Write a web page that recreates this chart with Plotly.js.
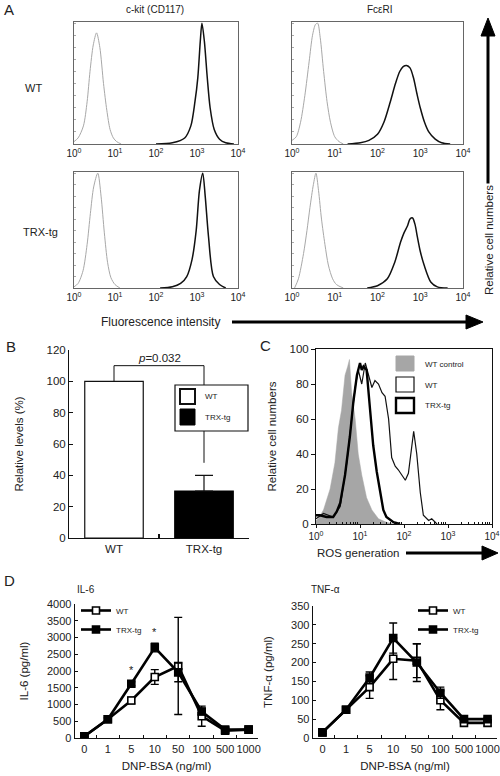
<!DOCTYPE html>
<html><head><meta charset="utf-8">
<script src="https://cdn.plot.ly/plotly-3.0.1.min.js"></script>
<style>html,body{margin:0;padding:0;background:#fff}#chart{width:500px;height:776px}</style>
</head><body><div id="chart"></div>
<script>
// ---------- DATA ----------
// Panel A: flow-cytometry histograms (x = log10 fluorescence, y = relative count)
const ckitWT_isoLog = [0, 0.1, 0.23, 0.32, 0.39, 0.47, 0.55, 0.63, 0.72, 0.8, 0.88, 0.96, 1.04, 1.15];
const ckitWT_isoY   = [2, 5, 15, 35, 60, 82, 92, 80, 50, 28, 12, 5, 2, 0];
const ckitWT_Log    = [2.0, 2.4, 2.7, 2.85, 2.95, 3.02, 3.08, 3.12, 3.18, 3.25, 3.32, 3.42, 3.55, 3.7, 3.9];
const ckitWT_Y      = [0, 1, 5, 15, 35, 55, 85, 100, 85, 55, 30, 12, 4, 1, 0];
const fceWT_isoLog  = [0, 0.1, 0.2, 0.3, 0.4, 0.48, 0.55, 0.6, 0.66, 0.74, 0.82, 0.9, 1.0, 1.1, 1.2];
const fceWT_isoY    = [3, 6, 18, 40, 68, 90, 99, 100, 88, 60, 35, 18, 6, 2, 0];
const fceWT_Log     = [1.3, 1.6, 1.8, 2.0, 2.15, 2.3, 2.42, 2.52, 2.6, 2.68, 2.76, 2.84, 2.92, 3.0, 3.1, 3.2, 3.35, 3.5, 3.7];
const fceWT_Y       = [0, 1, 3, 8, 18, 35, 50, 60, 64, 65, 63, 55, 42, 30, 18, 10, 4, 1, 0];
const ckitTG_isoLog = [0, 0.1, 0.22, 0.32, 0.4, 0.48, 0.58, 0.66, 0.74, 0.82, 0.9, 1.0, 1.12];
const ckitTG_isoY   = [1, 4, 15, 38, 65, 88, 100, 80, 48, 22, 9, 3, 0];
const ckitTG_Log    = [2.1, 2.4, 2.6, 2.75, 2.88, 2.98, 3.06, 3.14, 3.2, 3.28, 3.4, 3.55, 3.7];
const ckitTG_Y      = [0, 1, 4, 10, 25, 50, 85, 100, 80, 45, 10, 3, 0];
const fceTG_isoLog  = [0.06, 0.15, 0.27, 0.35, 0.42, 0.5, 0.56, 0.62, 0.69, 0.77, 0.85, 0.95, 1.04, 1.2];
const fceTG_isoY    = [0, 8, 30, 50, 70, 90, 100, 85, 60, 38, 20, 8, 3, 0];
const fceTG_Log     = [1.76, 2.0, 2.23, 2.4, 2.54, 2.62, 2.7, 2.76, 2.82, 2.88, 2.93, 3.0, 3.09, 3.25, 3.4, 3.64];
const fceTG_Y       = [0, 2, 8, 22, 40, 48, 54, 60, 61, 55, 45, 32, 20, 5, 1, 0];

// Panel B
const bCats  = ['WT', 'TRX-tg'];
const bVals  = [100, 30];
const bErr   = [0, 10];

// Panel C: ROS histograms
const ctrlLog = [0, 0.05, 0.17, 0.25, 0.32, 0.43, 0.51, 0.58, 0.66, 0.72, 0.76, 0.81, 0.89, 0.96, 1.04, 1.15, 1.27, 1.42, 1.6, 1.76];
const ctrlY   = [2, 3, 8, 15, 20, 35, 55, 65, 85, 90, 94, 75, 60, 40, 28, 15, 8, 3, 1, 0];
const wtLog   = [0, 0.17, 0.39, 0.55, 0.7, 0.81, 0.89, 0.96, 1.04, 1.12, 1.19, 1.27, 1.34, 1.42, 1.5, 1.57, 1.65, 1.72, 1.8, 1.87, 1.95, 2.03, 2.1, 2.18, 2.22, 2.29, 2.37, 2.44, 2.56, 2.63, 2.75];
const wtY     = [3, 6, 4, 10, 35, 60, 78, 88, 80, 92, 85, 78, 82, 80, 75, 73, 60, 38, 33, 31, 28, 25, 29, 45, 53, 40, 18, 5, 2, 3, 0];
const trxLog  = [0, 0.09, 0.24, 0.39, 0.47, 0.55, 0.66, 0.77, 0.85, 0.93, 1.0, 1.04, 1.08, 1.15, 1.23, 1.3, 1.38, 1.46, 1.53, 1.6, 1.76, 1.91];
const trxY    = [5, 5, 4, 4, 7, 12, 28, 50, 70, 85, 92, 88, 90, 88, 65, 45, 30, 18, 8, 4, 1, 0];

// Panel D
const dCats      = ['0', '1', '5', '10', '50', '100', '500', '1000'];
const il6WT      = [50, 560, 1120, 1820, 2150, 650, 220, 250];
const il6WTerr   = [20, 40, 100, 220, 1450, 300, 50, 40];
const il6TRX     = [50, 560, 1620, 2700, 1960, 790, 250, 250];
const il6TRXerr  = [20, 40, 60, 130, 280, 100, 40, 40];
const tnfWT      = [15, 75, 135, 210, 205, 100, 40, 40];
const tnfWTerr   = [3, 4, 30, 55, 45, 25, 5, 8];
const tnfTRX     = [15, 75, 160, 265, 200, 120, 50, 50];
const tnfTRXerr  = [3, 4, 15, 40, 50, 15, 5, 5];

const logTicks = [1, 10, 100, 1000, 10000];
const logTickText = ['10<sup>0</sup>', '10<sup>1</sup>', '10<sup>2</sup>', '10<sup>3</sup>', '10<sup>4</sup>'];
const logMinor = [2,3,4,5,6,7,8,9,20,30,40,50,60,70,80,90,200,300,400,500,600,700,800,900,2000,3000,4000,5000,6000,7000,8000,9000];

// ---------- HELPERS ----------
const W = 500, H = 776;
const FONT = 'Liberation Sans, Arial, sans-serif';
const TXT = '#222';
const fx = p => p / W;
const fy = p => 1 - p / H;
const domX = (a, b) => [a / W, b / W];
const domY = (top, bottom) => [1 - bottom / H, 1 - top / H];
const unlog = arr => arr.map(v => Math.pow(10, v));

const traces = [];
function hist(xa, ya, logs, ys, color, width) {
  traces.push({type: 'scatter', mode: 'lines', x: unlog(logs), y: ys, xaxis: xa, yaxis: ya,
    line: {color: color, width: width, shape: 'spline', smoothing: 0.8}, showlegend: false, hoverinfo: 'skip'});
}
hist('x', 'y', ckitWT_isoLog, ckitWT_isoY, '#a8a8a8', 1);
hist('x', 'y', ckitWT_Log, ckitWT_Y, '#111', 1.5);
hist('x2', 'y2', fceWT_isoLog, fceWT_isoY, '#a8a8a8', 1);
hist('x2', 'y2', fceWT_Log, fceWT_Y, '#111', 1.5);
hist('x3', 'y3', ckitTG_isoLog, ckitTG_isoY, '#a8a8a8', 1);
hist('x3', 'y3', ckitTG_Log, ckitTG_Y, '#111', 1.5);
hist('x4', 'y4', fceTG_isoLog, fceTG_isoY, '#a8a8a8', 1);
hist('x4', 'y4', fceTG_Log, fceTG_Y, '#111', 1.5);

// Panel B bars
traces.push({type: 'bar', x: [bCats[0]], y: [bVals[0]], xaxis: 'x5', yaxis: 'y5', width: 0.65,
  marker: {color: '#fff', line: {color: '#111', width: 1.2}}, showlegend: false, name: 'WT'});
traces.push({type: 'bar', x: [bCats[1]], y: [bVals[1]], xaxis: 'x5', yaxis: 'y5', width: 0.65,
  marker: {color: '#000', line: {color: '#000', width: 1.2}}, showlegend: false, name: 'TRX-tg',
  error_y: {type: 'data', symmetric: false, array: [bErr[1]], arrayminus: [0], color: '#111', thickness: 1.2, width: 9}});

// Panel C
traces.push({type: 'scatter', mode: 'lines', x: unlog(ctrlLog), y: ctrlY, xaxis: 'x6', yaxis: 'y6',
  fill: 'tozeroy', fillcolor: '#a6a6a6', line: {color: '#a6a6a6', width: 0.5}, showlegend: false, name: 'WT control'});
traces.push({type: 'scatter', mode: 'lines', x: unlog(wtLog), y: wtY, xaxis: 'x6', yaxis: 'y6',
  line: {color: '#111', width: 1.2}, showlegend: false, name: 'WT'});
traces.push({type: 'scatter', mode: 'lines', x: unlog(trxLog), y: trxY, xaxis: 'x6', yaxis: 'y6',
  line: {color: '#000', width: 2.4}, showlegend: false, name: 'TRX-tg'});

// Panel D
function dose(xa, ya, vals, err, filled, name, legend) {
  traces.push({type: 'scatter', mode: 'lines+markers', x: dCats, y: vals, xaxis: xa, yaxis: ya, name: name,
    legend: legend,
    line: {color: '#000', width: 2.6},
    marker: {symbol: 'square', size: 7, color: filled ? '#000' : '#fff', line: {color: '#000', width: 1.6}},
    error_y: {type: 'data', array: err, color: '#000', thickness: 1.4, width: 4}});
}
dose('x7', 'y7', il6WT, il6WTerr, false, 'WT', 'legend');
dose('x7', 'y7', il6TRX, il6TRXerr, true, 'TRX-tg', 'legend');
dose('x8', 'y8', tnfWT, tnfWTerr, false, 'WT', 'legend2');
dose('x8', 'y8', tnfTRX, tnfTRXerr, true, 'TRX-tg', 'legend2');

// ---------- AXES ----------
function flowX(dom, anchor) {
  return {domain: dom, anchor: anchor, type: 'log', range: [0, 4], tickmode: 'array', tickvals: logTicks, ticktext: logTickText,
    ticks: '', showline: true, mirror: true, linecolor: '#666', linewidth: 1, showgrid: false, zeroline: false,
    tickfont: {size: 10, color: TXT}, fixedrange: true};
}
function flowY(dom, anchor) {
  return {domain: dom, anchor: anchor, range: [0, 101], showticklabels: false, ticks: 'inside', ticklen: 2,
    tickcolor: '#aaa', dtick: 10, showline: true, mirror: true, linecolor: '#666', linewidth: 1, showgrid: false, zeroline: false};
}
function doseX(dom, anchor) {
  return {domain: dom, anchor: anchor, type: 'category', categoryorder: 'array', categoryarray: dCats,
    range: [-0.4, 7.4], ticks: 'inside', tickson: 'boundaries', ticklen: 3, tickcolor: '#111', showline: true,
    linecolor: '#111', linewidth: 1.4, showgrid: false, zeroline: false, tickangle: 0, tickfont: {size: 11},
    title: {text: 'DNP-BSA (ng/ml)', font: {size: 11.5}, standoff: 8}};
}
const axA1x = domX(74, 238), axA2x = domX(292, 463);
const axTopY = domY(22, 144), axBotY = domY(172, 288);

const layout = {
  width: W, height: H, margin: {l: 0, r: 0, t: 0, b: 0},
  paper_bgcolor: '#fff', plot_bgcolor: '#fff',
  font: {family: FONT, color: TXT, size: 11},
  barmode: 'overlay',
  xaxis: flowX(axA1x, 'y'), yaxis: flowY(axTopY, 'x'),
  xaxis2: flowX(axA2x, 'y2'), yaxis2: flowY(axTopY, 'x2'),
  xaxis3: flowX(axA1x, 'y3'), yaxis3: flowY(axBotY, 'x3'),
  xaxis4: flowX(axA2x, 'y4'), yaxis4: flowY(axBotY, 'x4'),
  xaxis5: {domain: domX(69, 249), anchor: 'y5', type: 'category', categoryorder: 'array', categoryarray: bCats,
    range: [-0.5, 1.5], showline: true, linecolor: '#111', linewidth: 1, ticks: '', showgrid: false, zeroline: false,
    tickfont: {size: 11.5}},
  yaxis5: {domain: domY(350, 538), anchor: 'x5', range: [0, 120], dtick: 20, ticks: 'inside', ticklen: 4, tickcolor: '#111',
    showline: true, linecolor: '#111', linewidth: 1, showgrid: false, zeroline: false, tickfont: {size: 11.5},
    title: {text: 'Relative levels (%)', font: {size: 11.5}, standoff: 20}},
  xaxis6: {domain: domX(316, 492), anchor: 'y6', type: 'log', range: [0, 4], tickmode: 'array', tickvals: logTicks,
    ticktext: logTickText, ticks: 'outside', ticklen: 3, tickcolor: '#111', showline: true, mirror: true, linecolor: '#111',
    linewidth: 1, showgrid: false, zeroline: false, tickfont: {size: 10},
    minor: {tickmode: 'array', tickvals: logMinor, ticks: 'inside', ticklen: 2, tickcolor: '#111'}},
  yaxis6: {domain: domY(349, 524), anchor: 'x6', range: [0, 100], dtick: 20, ticks: 'outside', ticklen: 4, tickcolor: '#111',
    showline: true, mirror: true, linecolor: '#111', linewidth: 1, showgrid: false, zeroline: false, tickfont: {size: 11.5},
    title: {text: 'Relative cell numbers', font: {size: 11.5}, standoff: 10}},
  xaxis7: doseX(domX(75, 258), 'y7'),
  yaxis7: {domain: domY(604, 738), anchor: 'x7', range: [0, 4000], dtick: 500, ticks: 'inside', ticklen: 3, tickcolor: '#111',
    showline: true, linecolor: '#111', linewidth: 1.4, showgrid: false, zeroline: false, tickfont: {size: 11},
    title: {text: 'IL-6 (pg/ml)', font: {size: 11.5}, standoff: 16}},
  xaxis8: doseX(domX(313, 497), 'y8'),
  yaxis8: {domain: domY(606, 738), anchor: 'x8', range: [0, 350], dtick: 50, ticks: 'inside', ticklen: 3, tickcolor: '#111',
    showline: true, linecolor: '#111', linewidth: 1.4, showgrid: false, zeroline: false, tickfont: {size: 11},
    title: {text: 'TNF-α (pg/ml)', font: {size: 11.5}, standoff: 16}},
  legend: {x: fx(76), y: fy(596), xanchor: 'left', yanchor: 'top', bgcolor: 'rgba(0,0,0,0)', borderwidth: 0,
    font: {size: 8}, tracegroupgap: 0, itemwidth: 30},
  legend2: {x: fx(413), y: fy(596), xanchor: 'left', yanchor: 'top', bgcolor: 'rgba(0,0,0,0)', borderwidth: 0,
    font: {size: 8}, tracegroupgap: 0, itemwidth: 30},
  shapes: [],
  annotations: []
};

// ---------- SHAPES (arrows, bracket, manual legends) ----------
const S = layout.shapes;
const line = (x0, y0, x1, y1, w) => S.push({type: 'line', xref: 'paper', yref: 'paper', x0: fx(x0), y0: fy(y0), x1: fx(x1), y1: fy(y1), line: {color: '#000', width: w}});
const tri = (pts) => S.push({type: 'path', xref: 'paper', yref: 'paper',
  path: 'M' + pts.map(p => fx(p[0]) + ',' + fy(p[1])).join(' L') + ' Z', fillcolor: '#000', line: {color: '#000', width: 1}});
const rect = (x0, y0, x1, y1, fill, lc, lw) => S.push({type: 'rect', xref: 'paper', yref: 'paper', x0: fx(x0), y0: fy(y0), x1: fx(x1), y1: fy(y1), fillcolor: fill, line: {color: lc, width: lw}});

// A: horizontal arrow
line(232, 322, 468, 322, 3);
tri([[466, 315], [483, 322], [466, 329]]);
// A: vertical arrow
line(488, 292, 488, 34, 3);
tri([[481, 36], [488, 18], [495, 36]]);
// C: ROS arrow
line(406, 553, 484, 553, 3);
tri([[482, 546], [498, 553], [482, 560]]);
// B: significance bracket (data coords)
S.push({type: 'path', xref: 'x5', yref: 'y5', path: 'M 0,100 L 0,110 L 1,110 L 1,48', line: {color: '#111', width: 1}});
// B: small category-boundary tick on x axis
S.push({type: 'line', xref: 'x5', yref: 'y5', x0: 0.5, x1: 0.5, y0: 0, y1: 2.5, line: {color: '#111', width: 2}});
// B legend
rect(175, 385, 248, 431, '#fff', '#111', 1.2);
rect(180, 389, 195, 404, '#fff', '#111', 2);
rect(180, 409, 195, 425, '#000', '#000', 1);
// C legend
rect(396, 356, 414, 371, '#a6a6a6', '#a6a6a6', 1);
rect(396, 377, 414, 392, '#fff', '#111', 1.2);
rect(396, 398, 414, 413, '#fff', '#000', 2.4);

// ---------- ANNOTATIONS ----------
const A = layout.annotations;
const ann = (text, x, y, o) => A.push(Object.assign({xref: 'paper', yref: 'paper', x: fx(x), y: fy(y), text: text,
  showarrow: false, xanchor: 'center', yanchor: 'middle', font: {size: 11, color: TXT}}, o || {}));
ann('A', 2, 10, {font: {size: 15}, xanchor: 'left'});
ann('c-kit (CD117)', 155, 10, {font: {size: 10}});
ann('Fcε' + 'RI', 380, 10, {font: {size: 10}});
ann('WT', 33, 88);
ann('TRX-tg', 40, 232);
ann('Fluorescence intensity', 160, 322, {font: {size: 12}});
ann('Relative cell numbers', 489, 240, {textangle: -90, bgcolor: '#fff', font: {size: 11.5}});
ann('B', 4, 346, {font: {size: 15}, xanchor: 'left'});
ann('<i>p</i>=0.032', 0, 0, {xref: 'x5', yref: 'y5', x: 0.5, y: 110, yanchor: 'bottom', font: {size: 11.5}});
ann('WT', 203, 396, {xanchor: 'left', font: {size: 8}});
ann('TRX-tg', 203, 417, {xanchor: 'left', font: {size: 8}});
ann('C', 265, 345, {font: {size: 15}});
ann('WT control', 423, 364, {xanchor: 'left', font: {size: 8}});
ann('WT', 423, 385, {xanchor: 'left', font: {size: 8}});
ann('TRX-tg', 423, 405, {xanchor: 'left', font: {size: 8}});
ann('ROS generation', 358, 553, {font: {size: 11.5}});
ann('D', 2, 580, {font: {size: 15}, xanchor: 'left'});
ann('IL-6', 75, 589, {xanchor: 'left', font: {size: 10}});
ann('TNF-α', 309, 589, {xanchor: 'left', font: {size: 10}});
ann('*', 0, 0, {xref: 'x7', yref: 'y7', x: 2, y: il6TRX[2] + il6TRXerr[2] + 100, yanchor: 'bottom', font: {size: 11}});
ann('*', 0, 0, {xref: 'x7', yref: 'y7', x: 3, y: il6TRX[3] + il6TRXerr[3] + 100, yanchor: 'bottom', font: {size: 11}});

Plotly.newPlot('chart', traces, layout, {staticPlot: true, displayModeBar: false});
</script>
</body></html>
